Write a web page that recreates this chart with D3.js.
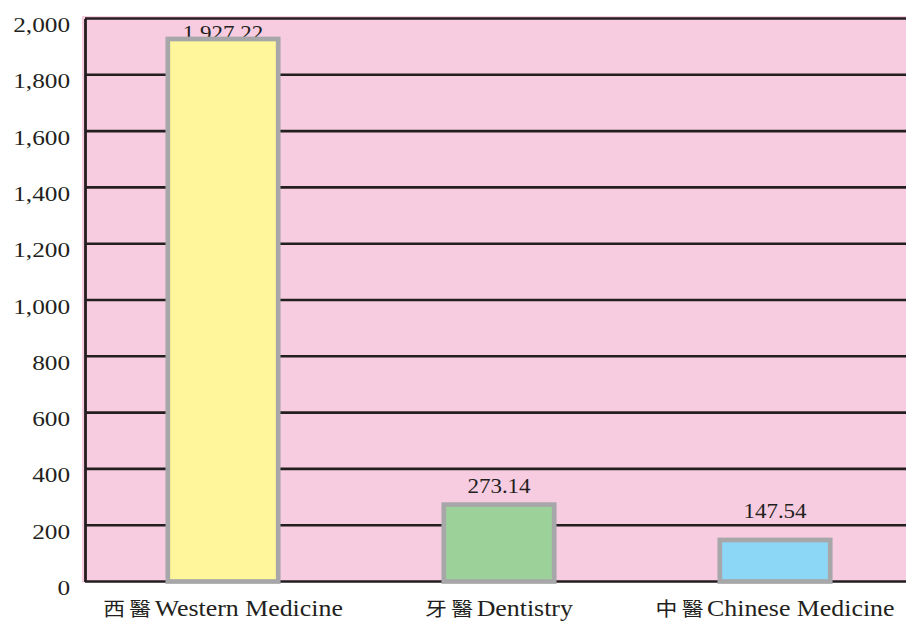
<html>
<head>
	<script src="https://d3js.org/d3.v7.min.js"></script>
	<style>
		body { margin: 0; background: #fff; }
		text { font-family: "Liberation Serif", "Times New Roman", serif; fill: #231f20; }
	</style>
</head>
<body>
	<script>
		var width = 906;
		var height = 621;

		var categories = ["Western Medicine", "Dentistry", "Chinese Medicine"];
		var categoryCJK = ["西\u2009醫", "牙\u2009醫", "中\u2009醫"];
		var values = [1927.22, 273.14, 147.54];
		var barColors = ["#fff59b", "#9dd19a", "#8cd7f5"];
		var yTicks = [0, 200, 400, 600, 800, 1000, 1200, 1400, 1600, 1800, 2000];

		var data = categories.map(function(c, i) {
			return { name: c, cjk: categoryCJK[i], value: values[i], color: barColors[i] };
		});

		var plotLeft = 85, plotRight = 913, plotTop = 18.5, plotBottom = 581.5;
		var stretch = "scale(1.15,1)";

		var svg = d3.select("body").append("svg")
			.attr("width", width)
			.attr("height", height);

		var xScale = d3.scaleBand()
			.domain(categories)
			.range([plotLeft, plotRight])
			.paddingInner(0.6)
			.paddingOuter(0.3);

		var yScale = d3.scaleLinear()
			.domain([0, 2000])
			.range([plotBottom, plotTop]);

		// pink plot background
		svg.append("rect")
			.attr("x", 82)
			.attr("y", 16)
			.attr("width", width - 82)
			.attr("height", plotBottom - 16 + 1)
			.attr("fill", "#f7cce0");

		// gridlines
		svg.append("g").selectAll("line").data(yTicks)
			.enter().append("line")
			.attr("x1", plotLeft)
			.attr("x2", width)
			.attr("y1", function(d) { return yScale(d); })
			.attr("y2", function(d) { return yScale(d); })
			.attr("stroke", "#231f20")
			.attr("stroke-width", 2.6);

		// y axis
		var yAxis = d3.axisLeft(yScale)
			.tickValues(yTicks)
			.tickFormat(d3.format(","))
			.tickSize(0)
			.tickPadding(0);

		var yAxisG = svg.append("g")
			.attr("transform", "translate(" + plotLeft + ",0)")
			.call(yAxis);
		yAxisG.select(".domain")
			.attr("stroke", "#231f20")
			.attr("stroke-width", 2.8);
		yAxisG.selectAll("text")
			.attr("x", -13)
			.attr("dy", 0)
			.attr("y", 13)
			.attr("transform", stretch)
			.attr("font-size", 22)
			.attr("font-family", "Liberation Serif")
			.attr("fill", "#231f20");

		// value label baseline: above the bar, but keep clear of gridlines
		function labelY(v) {
			var barTop = yScale(v);
			var base = barTop - 12;
			var hit = yTicks.map(yScale).filter(function(g) { return g > base - 15 && g < base + 3; });
			if (hit.length) {
				base = hit[0] - 7;
				if (base - 14 < plotTop) base = barTop + 1;
			}
			return base;
		}

		// value labels
		svg.append("g").selectAll("text").data(data)
			.enter().append("text")
			.attr("text-anchor", "middle")
			.attr("font-size", 20)
			.attr("transform", function(d) {
				return "translate(" + (xScale(d.name) + xScale.bandwidth() / 2) + "," + labelY(d.value) + ") " + stretch;
			})
			.text(function(d) { return d3.format(",.2f")(d.value); });

		// bars
		svg.append("g").selectAll("rect").data(data)
			.enter().append("rect")
			.attr("x", function(d) { return xScale(d.name); })
			.attr("y", function(d) { return yScale(d.value); })
			.attr("width", xScale.bandwidth())
			.attr("height", function(d) { return yScale(0) - yScale(d.value); })
			.attr("fill", function(d) { return d.color; })
			.attr("stroke", "#a7a7a9")
			.attr("stroke-width", 4.7);

		// x axis
		var xAxis = d3.axisBottom(xScale).tickSize(0).tickPadding(0);
		var xAxisG = svg.append("g")
			.attr("transform", "translate(0," + plotBottom + ")")
			.call(xAxis);
		xAxisG.select(".domain").remove();
		xAxisG.selectAll("text")
			.attr("dy", 0)
			.attr("y", 34.5)
			.attr("transform", stretch)
			.attr("font-size", 22.5)
			.attr("font-family", "Liberation Serif")
			.attr("fill", "#231f20")
			.each(function(d, i) {
				var t = d3.select(this);
				t.text(null);
				t.append("tspan")
					.attr("font-family", "Noto Sans CJK TC")
					.attr("font-size", 19)
					.text(categoryCJK[i]);
				t.append("tspan")
					.attr("dx", 3)
					.text(d);
			});
	</script>
</body>
</html>
